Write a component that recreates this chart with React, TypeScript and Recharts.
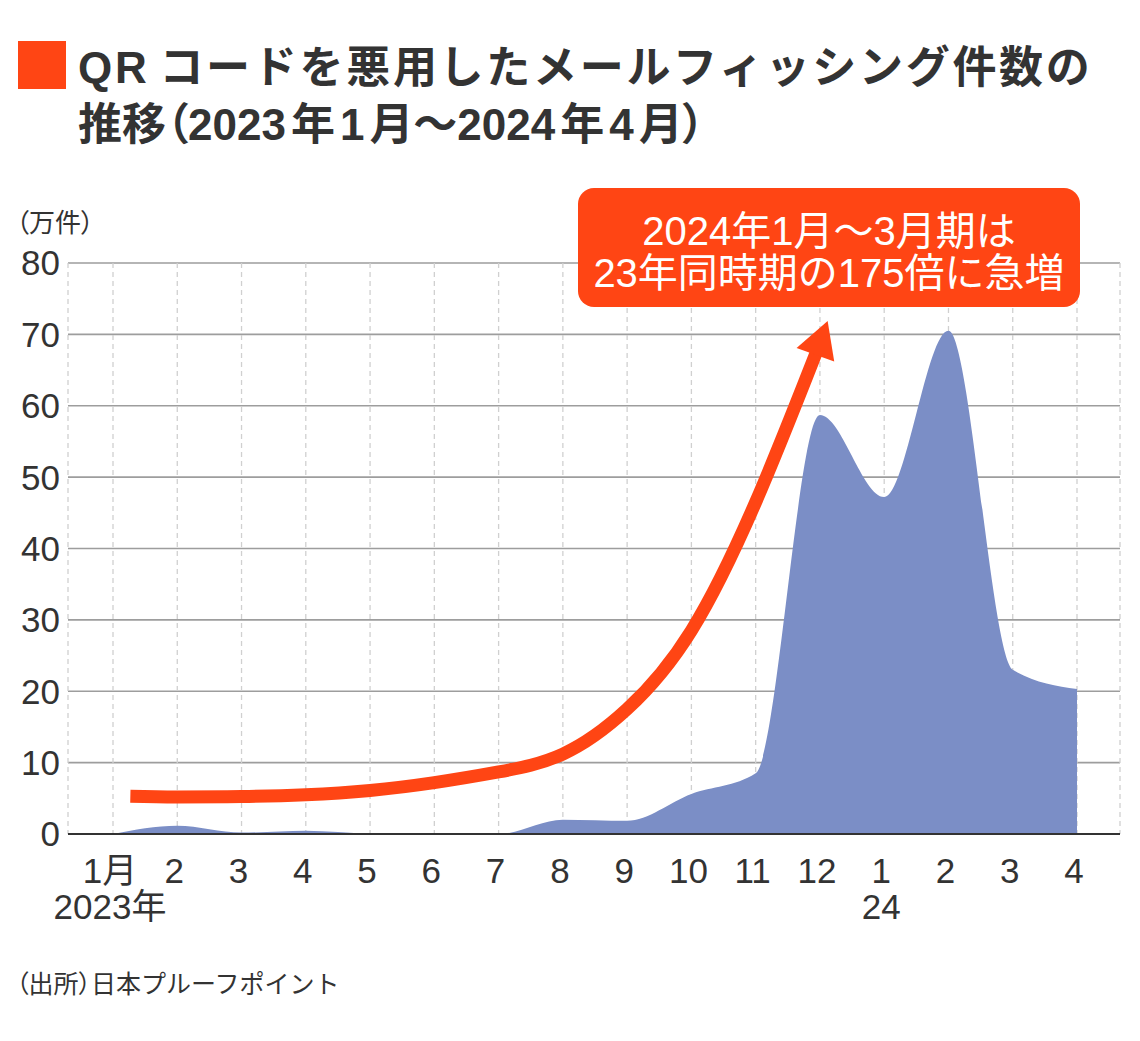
import React from 'react';
import { ComposedChart, Area, Line, XAxis, YAxis, CartesianGrid } from 'recharts';

// ---- data ----
const monthIndex = [0, 1, 2, 3, 4, 5, 6, 7, 8, 9, 10, 11, 12, 13, 14, 15];
const monthLabels = ['1月', '2', '3', '4', '5', '6', '7', '8', '9', '10', '11', '12', '1', '2', '3', '4'];
const yearLabels = ['2023年', '', '', '', '', '', '', '', '', '', '', '', '24', '', '', ''];
// 万件
const phishingCounts = [0, 1.15, 0.2, 0.45, 0.05, 0, 0, 2.0, 1.85, 5.6, 8.5, 58.7, 47.2, 70.5, 23.0, 20.3];
const yTicks = [0, 10, 20, 30, 40, 50, 60, 70, 80];
// trend arrow annotation (x in month index, y in 万件)
const arrowX = [0.27, 1, 2, 3, 4, 5, 6, 7, 8, 9, 10, 10.94];
const arrowY = [5.3, 5.2, 5.25, 5.5, 6.1, 7.2, 8.7, 11.2, 17.5, 28.5, 46.5, 67.4];

const titleLine1 = 'QR コードを悪用したメールフィッシング件数の';
const titleLine2 = '推移（2023 年 1 月〜2024 年 4 月）';
const unitLabel = '（万件）';
const calloutLine1 = '2024年1月〜3月期は';
const calloutLine2 = '23年同時期の175倍に急増';
const sourceLabel = '（出所）日本プルーフポイント';

const chartData = monthIndex.map((x, i) => ({ x, count: phishingCounts[i] }));
const arrowData = arrowX.map((x, i) => ({ x, v: arrowY[i] }));

const ACCENT = '#ff4514';
const AREA = '#7b8ec6';
const TEXT = '#333333';
const FONT = '"Liberation Sans", Arial, "Noto Sans CJK JP", sans-serif';

// parens get proportional widths, spaces become small gaps
const rich = (s: string, gap: number) => {
  const segs = s.split(/([（）]| )/).filter((t) => t !== '');
  const out: any[] = [];
  let pendingGap = 0;
  segs.forEach((seg, i) => {
    if (seg === ' ') {
      pendingGap += gap;
      return;
    }
    const isParen = seg === '（' || seg === '）';
    out.push(
      <tspan key={i} dx={pendingGap || undefined} style={isParen ? { fontFeatureSettings: '"palt"' } : undefined}>
        {seg}
      </tspan>
    );
    pendingGap = 0;
  });
  return out;
};

const MonthTick = (props: any) => {
  const { x, y, payload } = props;
  const i = payload.value as number;
  const yr = yearLabels[i];
  return (
    <g>
      <text x={x - 3} y={y} textAnchor="middle" fill={TEXT} fontSize={35} fontFamily={FONT}>
        <tspan x={x - 3} dy="0.71em">{monthLabels[i]}</tspan>
        {yr ? <tspan x={x - 3} dy="1.02em">{yr}</tspan> : null}
      </text>
    </g>
  );
};

const ArrowHead = (props: any) => {
  const { cx, cy, index } = props;
  if (index !== arrowX.length - 1 || cx == null || cy == null) return <g key={`d${index}`} />;
  // arrowhead shape (style): direction and size
  const ux = 0.34, uy = -0.941; // pointing up-right
  const nx = 0.941, ny = 0.34;
  const len = 36, half = 20;
  const bx = cx - ux * 2, by = cy - uy * 2;
  const pts = [
    [bx + ux * len, by + uy * len],
    [bx + nx * half, by + ny * half],
    [bx - nx * half, by - ny * half],
  ].map((p) => p.join(',')).join(' ');
  return <polygon key={`d${index}`} points={pts} fill={ACCENT} />;
};

export default function App() {
  return (
    <div style={{ position: 'absolute', left: 0, top: 0, width: 1140, height: 1041, background: '#fff', fontFamily: FONT }}>
      <div style={{ position: 'absolute', left: 0, top: 0 }}>
        <ComposedChart
          width={1140}
          height={960}
          data={chartData}
          margin={{ top: 263, right: 20, bottom: 46, left: 0 }}
        >
          <CartesianGrid horizontal vertical={false} stroke="#9d9d9d" strokeWidth={1.6} />
          <CartesianGrid horizontal={false} vertical stroke="#d0d0d0" strokeDasharray="5 4" strokeWidth={1.3} />
          <XAxis
            type="number"
            dataKey="x"
            domain={[0, 15]}
            ticks={monthIndex}
            interval={0}
            padding={{ left: 45, right: 43 }}
            height={80}
            tickLine={false}
            tickSize={6}
            tickMargin={18}
            axisLine={{ stroke: '#333', strokeWidth: 2 }}
            tick={<MonthTick />}
          />
          <YAxis
            type="number"
            domain={[0, 80]}
            ticks={yTicks}
            interval={0}
            width={68}
            axisLine={false}
            tickLine={false}
            tick={{ fill: TEXT, fontSize: 35, fontFamily: FONT }}
          />
          <Area
            type="monotone"
            dataKey="count"
            fill={AREA}
            fillOpacity={1}
            stroke="none"
            isAnimationActive={false}
          />
          <Line
            data={arrowData}
            dataKey="v"
            type="natural"
            stroke={ACCENT}
            strokeWidth={13}
            dot={(p: any) => <ArrowHead {...p} key={`a${p.index}`} />}
            activeDot={false}
            isAnimationActive={false}
            legendType="none"
          />
        </ComposedChart>
      </div>
      <svg width={1140} height={1041} style={{ position: 'absolute', left: 0, top: 0, pointerEvents: 'none' }}>
        <rect x={18} y={41} width={48} height={48} fill={ACCENT} />
        <text x={78} y={83} fontSize={44} fontWeight={700} fill={TEXT} fontFamily={FONT} letterSpacing={2.7}>{rich(titleLine1, 10)}</text>
        <text x={78} y={140} fontSize={44} fontWeight={700} fill={TEXT} fontFamily={FONT}>{rich(titleLine2, 5)}</text>
        <text x={16} y={232} fontSize={26} fill={TEXT} fontFamily={FONT}>{rich(unitLabel, 0)}</text>
        <rect x={578} y={188} width={502} height={119} rx={16} ry={16} fill={ACCENT} />
        <text x={829} y={245} fontSize={40} fill="#fff" textAnchor="middle" fontFamily={FONT}>{calloutLine1}</text>
        <text x={829} y={287} fontSize={40} fill="#fff" textAnchor="middle" fontFamily={FONT}>{calloutLine2}</text>
        <text x={16} y={993} fontSize={25} fill={TEXT} fontFamily={FONT}>{rich(sourceLabel, 0)}</text>
      </svg>
    </div>
  );
}
